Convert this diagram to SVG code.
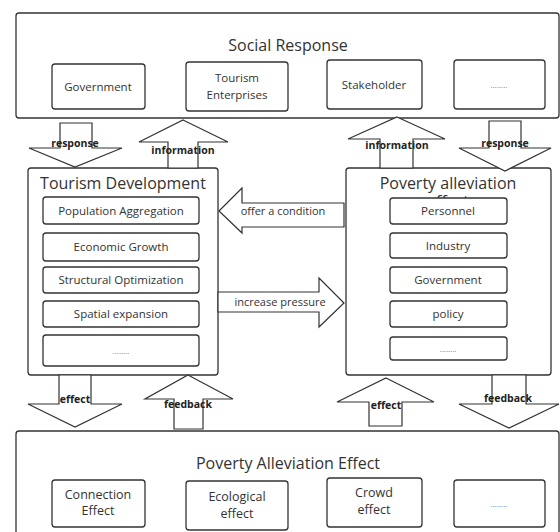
<svg xmlns="http://www.w3.org/2000/svg" width="560" height="532" viewBox="0 0 560 532">
<defs>
<clipPath id="effclip"><rect x="346" y="168" width="205" height="30"/></clipPath>
</defs>
<style>
.big{fill:#fff;stroke:#333;stroke-width:1.3}
.sub{fill:#fff;stroke:#333;stroke-width:1.3}
.arr{fill:#fff;stroke:#333;stroke-width:1.2;stroke-linejoin:miter}
text{font-family:"Open Sans","Noto Sans","DejaVu Sans",sans-serif;fill:#333;text-anchor:middle}
.t{font-size:16px}
.s{font-size:11.5px}
.b{font-size:12.5px}
.c{font-size:11px}
.l{font-size:10.5px;font-weight:bold;fill:#222}
.d{font-size:8px;fill:#777}
</style>
<rect width="560" height="532" fill="#fff"/>
<g id="social-response">
<rect class="big" x="16" y="13" width="543" height="105" rx="3"/>
<text class="t" x="288" y="51">Social Response</text>
<g id="sr-government"><rect class="sub" x="52" y="64" width="93" height="45" rx="3"/><text class="s" x="98" y="91">Government</text></g>
<g id="sr-enterprises"><rect class="sub" x="186" y="62" width="102" height="49" rx="3"/><text class="s" x="237" y="82">Tourism</text><text class="s" x="237" y="99">Enterprises</text></g>
<g id="sr-stakeholder"><rect class="sub" x="327" y="60" width="95" height="49" rx="3"/><text class="s" x="374" y="89">Stakeholder</text></g>
<g id="sr-more"><rect class="sub" x="454" y="60" width="91" height="49" rx="3"/><text class="d" x="499" y="88">........</text></g>
</g>
<g id="tourism-development">
<rect class="big" x="28" y="168" width="190" height="207" rx="3"/>
<text class="t" x="123" y="189">Tourism Development</text>
<g id="td-population"><rect class="sub" x="43" y="197" width="156" height="27" rx="3"/><text class="s" x="121" y="215">Population Aggregation</text></g>
<g id="td-economic"><rect class="sub" x="43" y="233" width="156" height="28" rx="3"/><text class="s" x="121" y="251">Economic Growth</text></g>
<g id="td-structural"><rect class="sub" x="43" y="267" width="156" height="26" rx="3"/><text class="s" x="121" y="284">Structural Optimization</text></g>
<g id="td-spatial"><rect class="sub" x="43" y="301" width="156" height="26" rx="3"/><text class="s" x="121" y="318">Spatial expansion</text></g>
<g id="td-more"><rect class="sub" x="43" y="335" width="156" height="31" rx="3"/><text class="d" x="121" y="354">........</text></g>
</g>
<g id="poverty-alleviation-effect">
<rect class="big" x="346" y="168" width="205" height="207" rx="3"/>
<text class="t" x="448" y="189">Poverty alleviation</text>
<text class="t" x="448" y="207" clip-path="url(#effclip)">effect</text>
<g id="pa-personnel"><rect class="sub" x="390" y="198" width="117" height="26" rx="3"/><text class="s" x="448" y="215">Personnel</text></g>
<g id="pa-industry"><rect class="sub" x="390" y="233" width="117" height="25" rx="3"/><text class="s" x="448" y="250">Industry</text></g>
<g id="pa-government"><rect class="sub" x="390" y="267" width="117" height="26" rx="3"/><text class="s" x="448" y="284">Government</text></g>
<g id="pa-policy"><rect class="sub" x="390" y="301" width="117" height="26" rx="3"/><text class="s" x="448" y="318">policy</text></g>
<g id="pa-more"><rect class="sub" x="390" y="337" width="117" height="23" rx="3"/><text class="d" x="448" y="352">........</text></g>
</g>
<g id="poverty-alleviation-effect-bottom">
<rect class="big" x="16" y="431" width="543" height="110" rx="3"/>
<text class="t" x="288" y="469">Poverty Alleviation Effect</text>
<g id="pe-connection"><rect class="sub" x="52" y="480" width="93" height="47" rx="3"/><text class="b" x="98" y="499">Connection</text><text class="b" x="98" y="515">Effect</text></g>
<g id="pe-ecological"><rect class="sub" x="186" y="481" width="102" height="49" rx="3"/><text class="b" x="237" y="501">Ecological</text><text class="b" x="237" y="518">effect</text></g>
<g id="pe-crowd"><rect class="sub" x="327" y="478" width="95" height="49" rx="3"/><text class="b" x="374" y="497">Crowd</text><text class="b" x="374" y="514">effect</text></g>
<g id="pe-more"><rect class="sub" x="454" y="480" width="91" height="47" rx="3"/><text class="d" x="499" y="507">........</text></g>
</g>
<g id="connectors">
<polygon class="arr" points="60,123 92,123 92,148 122,148 75,167 29,148 60,148"/>
<text class="l" x="75" y="147">response</text>
<polygon class="arr" points="183,120 228,142 198,142 198,168 168,168 168,142 139,142"/>
<text class="l" x="183" y="154">information</text>
<polygon class="arr" points="397,117 445,139 413,139 413,168 380,168 380,139 348,139"/>
<text class="l" x="397" y="149">information</text>
<polygon class="arr" points="489,121 521,121 521,148 551,148 505,171 459,148 489,148"/>
<text class="l" x="505" y="147">response</text>
<polygon class="arr" points="219,211 242,188 242,203 344,203 344,227 242,227 242,233"/>
<text class="c" x="283" y="215">offer a condition</text>
<polygon class="arr" points="218,292 319,292 319,278 344,303 319,327 319,312 218,312"/>
<text class="c" x="280" y="306">increase pressure</text>
<polygon class="arr" points="59,375 91,375 91,404 122,404 75,427 28,404 59,404"/>
<text class="l" x="75" y="403">effect</text>
<polygon class="arr" points="188,375 233,399 203,399 203,429 174,429 174,399 145,399"/>
<text class="l" x="188" y="408">feedback</text>
<polygon class="arr" points="386,378 434,402 402,402 402,426 369,426 369,402 337,402"/>
<text class="l" x="386" y="409">effect</text>
<polygon class="arr" points="492,375 526,375 526,404 559,404 509,428 459,404 492,404"/>
<text class="l" x="508" y="402">feedback</text>
</g>
</svg>
